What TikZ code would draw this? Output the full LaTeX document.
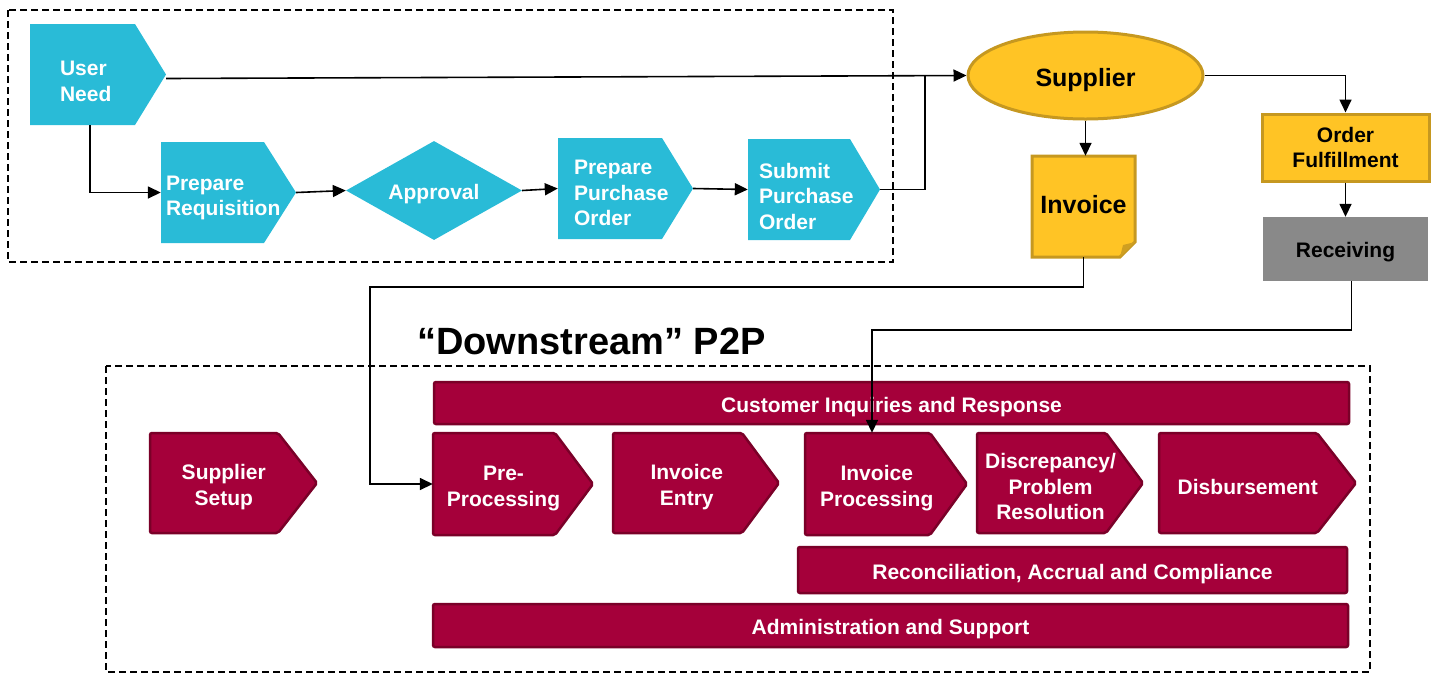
\documentclass[tikz,border=0pt]{standalone}
\usepackage{fontspec}
\setmainfont{Liberation Sans}
\usetikzlibrary{shapes.geometric,arrows.meta}

\definecolor{procblue}{RGB}{41,187,215}
\definecolor{supgold}{RGB}{255,196,37}
\definecolor{supgoldline}{RGB}{198,152,32}
\definecolor{recgray}{RGB}{137,137,137}
\definecolor{dsred}{RGB}{165,0,58}
\definecolor{dsredline}{RGB}{122,0,40}

% pentagon arrow shape: left edge x1, shoulder xr, tip xp, top y1, bottom y2
\newcommand{\chevpath}[6]{%
  \path[#1] (#2,#5) -- (#3,#5) -- (#4,{(#5+#6)/2}) -- (#3,#6) -- (#2,#6) -- cycle;}

\begin{document}
\begin{tikzpicture}[x=1pt,y=-1pt,
  conn/.style={draw=black, line width=1.6pt},
  arr/.style={conn, -{Triangle[length=13pt,width=12pt]}},
  frame/.style={draw=black, line width=1.5pt, dash pattern=on 7pt off 4pt},
  % a zero-width strut on the first line lowers the text block inside its node
  drop/.style={execute at begin node={\rule{0pt}{#1}}},
  drop/.default=23pt,
  txt/.style={font=\fontsize{21}{25.5}\selectfont\bfseries},
  bluefill/.style={fill=procblue},
  bluebox/.style={txt, drop, inner sep=0pt, text=white, align=left},
  redfill/.style={fill=dsred, draw=dsredline, line width=2.5pt, rounded corners=2pt},
  redbox/.style={txt, drop, inner sep=0pt, text=white, align=center},
  bar/.style={rectangle, redfill, txt, drop, inner sep=0pt, text=white},
  goldbox/.style={fill=supgold, draw=supgoldline, line width=3pt}
]
\useasboundingbox (0,0) rectangle (1434,673);

% ---------- upstream frame ----------
\draw[frame] (8,10) rectangle (893,262);

% upstream process steps
\chevpath{bluefill}{30}{135}{166}{24}{125}
\node[bluebox, drop=28pt, minimum width=136, minimum height=101, text width=76] (un) at (98,74.5) {User\\Need};

\chevpath{bluefill}{161}{264}{296}{142}{243}
\node[bluebox, drop=25pt, minimum width=135, minimum height=101, text width=125] (pr) at (228.5,192.5) {Prepare\\Requisition};

\node[diamond, aspect=1.8, fill=procblue, minimum width=176, minimum height=99,
      inner sep=0pt, txt, drop, text=white] (apv) at (434,190.5) {Approval};

\chevpath{bluefill}{558}{662}{693}{138}{239}
\node[bluebox, drop=24pt, minimum width=135, minimum height=101, text width=103] (ppo) at (625.5,188.5) {Prepare\\Purchase\\Order};

\chevpath{bluefill}{748}{850}{880}{139}{240}
\node[bluebox, drop=29pt, minimum width=132, minimum height=101, text width=110] (spo) at (814,189.5) {Submit\\Purchase\\Order};

% ---------- supplier side ----------
\node[ellipse, goldbox, minimum width=235, minimum height=87, inner sep=0pt,
      font=\fontsize{25}{30}\selectfont\bfseries, drop=27pt] (sup) at (1085.5,75.5) {Supplier};

\path[goldbox] (1032,156) -- (1135,156) -- (1135,242) -- (1120,257) -- (1032,257) -- cycle;
\path[fill=supgoldline!85!supgold] (1135,242) -- (1123,245) -- (1120,257) -- cycle;
\node[inner sep=0pt, minimum width=103, minimum height=101,
      font=\fontsize{25}{30}\selectfont\bfseries] (inv) at (1083.5,206.5) {\raisebox{3.5pt}{Invoice}};

\node[rectangle, goldbox, minimum width=167, minimum height=67, inner sep=0pt,
      txt, align=center] (of) at (1345.5,147.5) {Order\\Fulfillment};

\node[rectangle, fill=recgray, minimum width=165, minimum height=64, inner sep=0pt,
      txt, drop=21pt] (rec) at (1345.5,249) {Receiving};

% ---------- downstream ----------
\node[anchor=west, inner sep=0pt, font=\fontsize{38}{41}\selectfont\bfseries] (title) at (417,341) {“Downstream” P2P};

\draw[frame] (106,366) rectangle (1370,672);

\node[bar, minimum width=915, minimum height=42] (cir) at (891.5,403) {Customer Inquiries and Response};

\chevpath{redfill}{150}{278}{317}{433}{533}
\node[redbox, minimum width=147.5, text width=147.5, minimum height=100] (ss) at (223.75,483) {Supplier\\Setup};

\chevpath{redfill}{433}{555}{593}{433}{535}
\node[redbox, minimum width=141, text width=141, minimum height=102] (pp) at (503.5,484) {Pre-\\Processing};

\chevpath{redfill}{613}{742}{779}{433}{533}
\node[redbox, minimum width=147.5, text width=147.5, minimum height=100] (ie) at (686.75,483) {Invoice\\Entry};

\chevpath{redfill}{805}{930}{967}{433}{535}
\node[redbox, minimum width=143.5, text width=143.5, minimum height=102] (ip) at (876.75,484) {Invoice\\Processing};

\chevpath{redfill}{977}{1106}{1143}{433}{533}
\node[redbox, drop=19pt, minimum width=147, text width=147, minimum height=100] (dpr) at (1050.5,483) {Discrepancy/\\Problem\\Resolution};

\chevpath{redfill}{1159}{1317}{1356}{433}{533}
\node[redbox, drop=15pt, minimum width=177.5, minimum height=100] (dis) at (1247.75,483) {Disbursement};

\node[bar, drop=21pt, minimum width=549, minimum height=46] (rac) at (1072.5,570) {Reconciliation, Accrual and Compliance};
\node[bar, minimum width=915, minimum height=43] (adm) at (890.5,625.5) {Administration and Support};

% ---------- connectors ----------
\draw[arr] ([yshift=-4pt]un.east) -- (sup.west);
\draw[arr] ([xshift=-8pt]un.south) |- (pr.west);
\draw[arr] (pr.east) -- (apv.west);
\draw[arr] (apv.east) -- (ppo.west);
\draw[arr] (ppo.east) -- (spo.west);
\coordinate (merge) at (925,75.7);
\draw[conn] (spo.east) -| (merge);

\draw[arr] (sup.south) -- (sup.south |- inv.north);
\draw[arr] (sup.east) -| (of.north);
\draw[arr] (of.south) -- (rec.north);

\coordinate (invbend) at (370,287);
\draw[arr] (inv.south) |- (invbend) |- (pp.west);

\coordinate (recbend) at (872,330);
\draw[arr] ([xshift=6pt]rec.south) |- (recbend) -- (recbend |- ip.north);
\end{tikzpicture}
\end{document}
